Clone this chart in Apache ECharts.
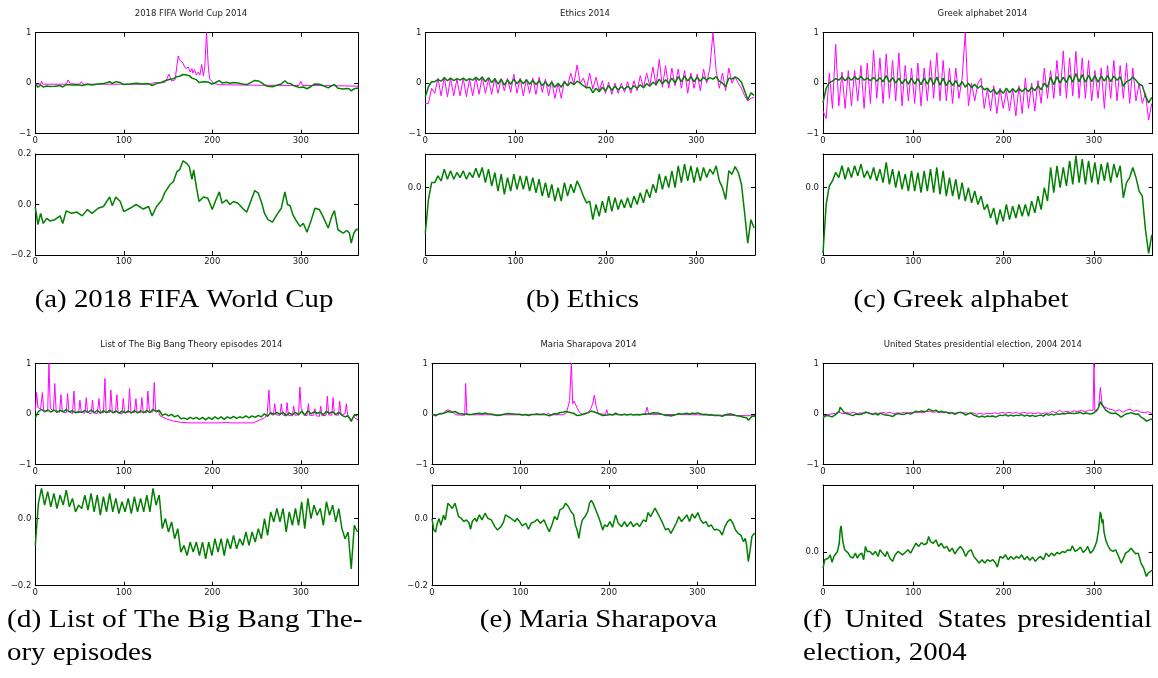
<!DOCTYPE html>
<html><head><meta charset="utf-8">
<script src="https://cdn.jsdelivr.net/npm/echarts@6/dist/echarts.min.js"></script>
<style>html,body{margin:0;padding:0;background:#fff}#c{width:1158px;height:678px}</style>
</head><body><div id="c"></div>
<script>
// ---------------- DATA ----------------
const xTicks = [0, 100, 200, 300];
const topTicks = [-1, 0, 1];
const STEP = 3.5; // grid spacing (days) for weekly-oscillating series

// (a) 2018 FIFA World Cup : [day, value]
const fifaGreen = [[0,-0.01],[3,-0.08],[6,-0.035],[9,-0.075],[13,-0.055],[16.5,-0.065],[22,-0.06],[28,-0.045],[31,-0.075],[35,-0.025],[41,-0.035],[47,-0.03],[53,-0.045],[59,-0.02],[64,-0.035],[71,-0.015],[77,-0.008],[84,0.03],[87,-0.005],[91,0.03],[96,0.012],[100,-0.028],[107,-0.015],[114,0.0],[122,-0.018],[128,-0.008],[132,-0.045],[137,-0.008],[143,0.018],[146,0.045],[152,0.078],[156,0.09],[160,0.13],[163,0.137],[167,0.173],[171,0.163],[174,0.15],[177,0.1],[179,0.137],[182,0.07],[185,0.012],[190,0.03],[195,0.025],[200,-0.02],[204,0.018],[208,0.05],[211,0.005],[216,0.018],[220,0.0],[224,0.012],[229,0.005],[235,-0.018],[239,-0.03],[244,0.018],[248,0.055],[252,0.045],[256,0.005],[259,-0.035],[263,-0.06],[268,-0.07],[273,-0.04],[278,-0.015],[282,0.05],[285,0.0],[288,-0.005],[291,-0.04],[295,-0.065],[299,-0.087],[303,-0.075],[307,-0.11],[312,-0.06],[316,-0.015],[321,-0.02],[325,-0.047],[331,-0.093],[335,-0.047],[338,-0.024],[342,-0.1],[348,-0.113],[352,-0.103],[355,-0.113],[357,-0.153],[360,-0.113],[363,-0.098],[365,-0.1]];
const fifaPink = [[0,-0.02],[6,-0.02],[7,0.04],[8.5,-0.02],[35,-0.02],[37,0.065],[39.5,-0.01],[50,-0.02],[52,0.03],[54,-0.02],[130,-0.02],[134,0.01],[136,-0.01],[146,0.01],[148,0.06],[151,0.18],[154,0.04],[158,0.07],[160,0.09],[161.5,0.54],[163,0.46],[166,0.42],[168,0.44],[170,0.29],[173,0.32],[175,0.22],[177,0.29],[178,0.2],[180,0.27],[182,0.16],[184,0.22],[186,0.16],[188,0.37],[190,0.14],[191.5,0.32],[193.5,1.0],[195.5,0.32],[197,0.09],[201,0.0],[208,-0.03],[250,-0.04],[298,-0.045],[300,0.04],[302,-0.045],[340,-0.05],[365,-0.06]];

// (b) Ethics : values every STEP days from day 0
const ethicsGreen = [
 -0.27,-0.07,0.03,0.03,0.07,0.04,0.11,0.05,0.10,0.05,
 0.09,0.06,0.10,0.05,0.09,0.06,0.115,0.06,0.12,0.03,
 0.11,0.01,0.09,-0.02,0.08,-0.04,0.06,-0.02,0.08,-0.01,
 0.07,-0.01,0.07,-0.02,0.06,-0.03,0.05,-0.05,0.03,-0.06,
 0.02,-0.08,0.0,-0.08,0.03,-0.05,0.02,-0.03,0.04,0.0,
 -0.05,-0.09,-0.08,-0.19,-0.1,-0.17,-0.08,-0.15,-0.05,-0.14,
 -0.06,-0.13,-0.07,-0.12,-0.06,-0.12,-0.05,-0.1,-0.03,-0.09,
 -0.01,-0.06,0.02,-0.03,0.08,-0.01,0.07,0.0,0.1,0.0,
 0.13,0.03,0.14,0.04,0.13,0.03,0.12,0.04,0.12,0.06,
 0.11,0.08,0.13,0.04,0.0,-0.07,0.1,0.08,0.125,0.09,
 0.02,-0.15,-0.33,-0.19,-0.24];
const ethicsPink = [
 -0.4,-0.4,-0.1,-0.2,0.1,-0.25,0.12,-0.27,0.1,-0.25,
 0.08,-0.25,0.1,-0.27,0.08,-0.25,0.12,-0.22,0.13,-0.2,
 0.08,-0.22,0.1,-0.2,0.09,-0.15,0.1,-0.18,0.18,-0.2,
 0.1,-0.25,0.08,-0.2,0.1,-0.22,0.12,-0.18,0.08,-0.25,
 0.05,-0.3,0.0,-0.3,0.05,-0.05,0.2,-0.02,0.36,0.0,
 0.1,-0.1,0.2,-0.12,0.12,-0.15,0.05,-0.2,0.02,-0.22,
 0.0,-0.2,0.0,-0.18,0.03,-0.2,0.05,-0.15,0.15,-0.1,
 0.2,-0.05,0.32,-0.05,0.47,-0.08,0.35,-0.1,0.3,-0.05,
 0.28,-0.1,0.25,-0.2,0.2,-0.1,0.18,-0.15,0.28,0.0,
 0.3,1.0,0.25,-0.1,0.2,-0.15,0.3,0.0,0.12,0.0,
 -0.1,-0.25,-0.35,-0.3,-0.28];

// (c) Greek alphabet : values every STEP days
const greekGreen = [
 -0.39,-0.1,0.01,0.04,0.09,0.06,0.13,0.05,0.12,0.06,
 0.13,0.07,0.14,0.06,0.1,0.05,0.12,0.04,0.11,0.03,
 0.15,0.02,0.11,0.0,0.1,-0.01,0.08,-0.02,0.1,-0.02,
 0.09,-0.03,0.1,-0.02,0.11,-0.03,0.12,-0.04,0.1,-0.05,
 0.06,-0.05,0.05,-0.07,0.03,-0.08,0.0,-0.09,-0.02,-0.1,
 -0.05,-0.13,-0.1,-0.18,-0.12,-0.22,-0.13,-0.2,-0.1,-0.19,
 -0.11,-0.18,-0.1,-0.17,-0.1,-0.17,-0.08,-0.15,-0.05,-0.13,
 0.0,-0.08,0.12,-0.03,0.13,0.0,0.12,0.01,0.16,0.02,
 0.19,0.03,0.17,0.02,0.16,0.03,0.15,0.02,0.14,0.04,
 0.15,0.03,0.14,0.06,0.13,-0.06,0.03,0.06,0.12,0.06,
 -0.02,-0.05,-0.25,-0.39,-0.28];
const greekPink = [
 -0.55,-0.7,0.2,-0.5,0.77,-0.45,0.22,-0.5,0.25,-0.45,
 0.25,-0.35,0.35,-0.5,0.4,-0.4,0.65,-0.3,0.5,-0.4,
 0.58,-0.3,0.45,-0.35,0.6,-0.45,0.35,-0.35,0.3,-0.4,
 0.4,-0.45,0.3,-0.35,0.45,-0.3,0.6,-0.35,0.45,-0.35,
 0.3,-0.4,0.3,-0.3,0.1,1.0,-0.45,0.0,-0.35,0.0,
 0.1,-0.5,-0.1,-0.55,-0.05,-0.6,-0.1,-0.5,-0.15,-0.55,
 -0.1,-0.65,-0.05,-0.6,0.1,-0.5,0.0,-0.55,0.05,-0.4,
 0.3,-0.3,0.25,-0.3,0.45,-0.25,0.64,-0.3,0.5,-0.25,
 0.63,-0.3,0.5,-0.3,0.45,-0.35,0.25,-0.3,0.3,-0.5,
 0.35,-0.3,0.45,-0.35,0.35,-0.3,0.4,-0.4,0.3,-0.35,
 0.0,-0.4,-0.2,-0.73,-0.4];

// (d) List of The Big Bang Theory episodes
const bigbangGreen = [
 -0.08,0.045,0.09,0.04,0.08,0.035,0.075,0.03,0.07,0.04,
 0.085,0.035,0.06,0.02,0.04,0.03,0.07,0.025,0.075,0.02,
 0.07,0.01,0.065,0.02,0.075,0.02,0.06,0.015,0.05,0.02,
 0.06,0.015,0.065,0.02,0.06,0.02,0.07,0.02,0.09,0.04,
 0.07,-0.03,0.0,-0.04,-0.01,-0.06,-0.03,-0.1,-0.08,-0.11,
 -0.07,-0.1,-0.07,-0.11,-0.07,-0.12,-0.07,-0.11,-0.06,-0.1,
 -0.06,-0.11,-0.06,-0.09,-0.05,-0.09,-0.06,-0.08,-0.04,-0.08,
 -0.04,-0.07,-0.03,-0.06,0.0,-0.05,0.02,-0.01,0.03,-0.01,
 0.03,-0.04,0.02,-0.02,0.03,-0.02,0.05,-0.03,0.06,0.0,
 0.04,0.01,0.03,-0.02,0.05,0.01,0.04,-0.01,0.03,-0.03,
 -0.06,-0.04,-0.15,-0.02,-0.04];
const bigbangPink = [[0,0.05],[1.5,0.42],[3,0.12],[6,0.1],[8,0.42],[9.5,0.06],[14,0.05],[15.4,1.0],[17,0.1],[20.5,0.06],[22,0.6],[23.5,0.07],[27.5,0.03],[29,0.38],[30.5,0.04],[35,0.02],[36.5,0.4],[38,0.05],[42,0.0],[43.7,0.45],[45,0.04],[49,0.02],[50.4,0.27],[52,0.03],[56,0.01],[57.6,0.32],[59,0.03],[63,0.0],[64.7,0.27],[66,0.02],[70,0.0],[72,0.3],[73.5,0.03],[77,0.02],[78.7,0.7],[80,0.05],[84,0.02],[85.4,0.47],[87,0.04],[90.5,0.02],[92.2,0.38],[93.5,0.03],[98,-0.01],[99.4,0.3],[101,0.03],[105,0.02],[106.5,0.5],[108,0.04],[112,0.02],[113.7,0.3],[115,0.03],[119,0.02],[120.4,0.32],[122,0.03],[126,0.02],[127.2,0.45],[129,0.04],[133,0.04],[134.4,0.62],[136,0.06],[139,0.06],[141,-0.04],[148,-0.1],[155,-0.14],[165,-0.17],[175,-0.18],[210,-0.18],[216,-0.17],[218,-0.15],[220,-0.18],[246,-0.18],[254,-0.12],[259,-0.08],[262,-0.02],[264,0.47],[265.5,0.0],[269,-0.03],[270.6,0.2],[272,-0.02],[276.5,-0.03],[278,0.2],[279.5,-0.02],[283,-0.04],[284.5,0.22],[286,-0.03],[290.5,-0.04],[292,0.15],[293.5,-0.03],[297.5,-0.02],[299,0.53],[300.5,0.1],[302,0.1],[304,-0.02],[307,-0.04],[308.6,0.2],[310,-0.03],[314.5,-0.03],[316,0.1],[317.5,-0.04],[321,-0.05],[322.5,0.15],[324,-0.04],[328.5,-0.03],[330,0.35],[331.5,-0.02],[335,-0.03],[336.5,0.32],[338,-0.02],[342.5,-0.03],[344,0.25],[345.5,-0.02],[350,0.0],[351.5,0.2],[353,-0.03],[357,-0.12],[360,-0.05],[362,-0.1],[365,-0.12]];

// (e) Maria Sharapova
const sharapovaGreen = [[0,0.0],[2,-0.034],[4,-0.04],[6,-0.014],[8,0.0],[10,-0.02],[13,0.01],[15,-0.004],[18,0.046],[20,0.04],[23,0.03],[26,0.046],[28,0.046],[30,0.006],[33,0.001],[36,-0.009],[39,-0.004],[42,-0.014],[43.5,-0.032],[45.5,-0.009],[48.5,0.001],[50.5,-0.009],[53.5,0.011],[56.5,-0.004],[60,0.016],[63,0.001],[67,-0.004],[71,-0.024],[74,-0.034],[78,-0.024],[81,-0.009],[83,0.011],[86,0.006],[89,0.001],[91,0.006],[94,-0.009],[96,0.001],[99,-0.009],[102,-0.022],[106,-0.014],[109,-0.032],[112,-0.014],[116,-0.009],[119,-0.002],[122.5,-0.014],[126.5,-0.004],[129.5,-0.022],[132.5,-0.039],[135.5,-0.019],[138.5,0.006],[141.5,-0.004],[144.5,0.026],[148,0.031],[151,0.046],[154,0.036],[157,0.021],[160,0.011],[162,-0.019],[164,-0.034],[166,-0.059],[168,-0.024],[170,-0.004],[173,0.006],[176,0.021],[178,0.046],[180,0.054],[182,0.046],[185,0.026],[188,0.006],[190,-0.009],[193,-0.034],[195,-0.019],[198,-0.024],[201,-0.009],[204,-0.026],[207.5,0.011],[210.5,-0.014],[214.5,-0.024],[217.5,-0.009],[220.5,-0.024],[224.5,-0.009],[227.5,-0.024],[231.5,-0.014],[234.5,-0.024],[239,-0.004],[242,-0.009],[244,0.018],[247,0.006],[250,0.021],[252,0.031],[255,0.016],[258,0.001],[261,-0.016],[264,-0.034],[267,-0.029],[270,-0.044],[273,-0.029],[276,-0.014],[279,0.006],[282,-0.009],[285,0.001],[288,0.011],[291,-0.009],[294,0.014],[297,0.001],[300.5,0.018],[303.5,-0.004],[306.5,-0.014],[309.5,-0.009],[312.5,-0.024],[315.5,-0.019],[319,-0.034],[322,-0.032],[325,-0.036],[328,-0.049],[331,-0.024],[334,-0.009],[337,-0.002],[340,-0.014],[343,-0.034],[346,-0.044],[349,-0.049],[352,-0.069],[354,-0.059],[355.5,-0.079],[357.5,-0.128],[359.5,-0.094],[361.5,-0.054],[363.5,-0.046],[365,-0.044]];
const sharapovaPink = [[0,-0.02],[8,-0.01],[12,0.0],[15,0.05],[18,0.08],[20,0.06],[22,0.05],[27,-0.02],[37,-0.03],[38,0.6],[39.5,-0.02],[130,-0.02],[131.5,0.02],[133,-0.02],[148,-0.02],[152,0.02],[154,0.05],[155.5,0.26],[157.5,1.0],[159,0.2],[160.5,0.25],[162,0.24],[164.5,0.1],[167,0.02],[171,-0.02],[176,0.02],[179,0.08],[181.5,0.2],[183.5,0.37],[185.5,0.15],[188,0.0],[196,-0.01],[197.5,0.08],[199,-0.02],[241,-0.01],[243,0.13],[245,-0.01],[300,-0.02],[365,-0.04]];

// (f) United States presidential election, 2004
const electionGreen = [[0,-0.095],[2,-0.045],[4,-0.055],[6,-0.036],[8,-0.016],[10,-0.061],[12,-0.026],[14,-0.016],[16,0.004],[18,0.053],[19,0.13],[20,0.156],[22,0.063],[24,0.014],[26,0.024],[28,-0.006],[30,-0.026],[33,-0.036],[36,-0.006],[38,-0.036],[40,-0.016],[43,-0.006],[45,-0.045],[47,0.034],[49,0.004],[52,0.004],[55,-0.016],[58,0.004],[61,-0.026],[63,0.014],[66,-0.006],[69,-0.026],[71,0.004],[74,-0.036],[77,-0.055],[80,-0.016],[83,0.004],[85,0.01],[88,-0.016],[91,-0.002],[94,0.014],[97,-0.006],[100,0.024],[103,0.053],[106,0.034],[109,0.057],[112,0.044],[115,0.053],[117,0.093],[119,0.063],[122,0.053],[125,0.073],[128,0.034],[131,0.053],[134,0.024],[137,0.034],[140,0.004],[143,0.024],[146,-0.01],[149,0.014],[152,0.034],[155,0.014],[158,-0.026],[161,0.004],[164,0.014],[167,-0.026],[170,-0.045],[173,-0.065],[176,-0.045],[179,-0.065],[182,-0.045],[185,-0.055],[188,-0.045],[191,-0.065],[193,-0.089],[196,-0.026],[199,-0.036],[202,-0.016],[205,-0.045],[208,-0.026],[211,-0.042],[214,-0.026],[217,-0.036],[220,-0.016],[223,-0.045],[226,-0.026],[229,-0.049],[232,-0.03],[235,-0.055],[238,-0.036],[241,-0.026],[244,-0.045],[247,-0.006],[250,-0.026],[253,-0.006],[256,-0.022],[259,-0.002],[262,-0.01],[265,0.004],[268,-0.002],[271,0.014],[274,0.01],[276,0.038],[279,0.004],[282,0.014],[285,0.03],[288,-0.002],[291,0.014],[293,0.034],[296,-0.006],[299,0.01],[301,0.034],[303,0.063],[305,0.13],[307,0.24],[308,0.22],[309,0.172],[310,0.196],[311,0.123],[313,0.073],[315,0.044],[318,0.014],[321,0.004],[324,0.014],[327,-0.022],[330,-0.065],[332,-0.045],[335,-0.006],[338,0.004],[341,0.024],[343,0.01],[346,-0.01],[349,-0.006],[352,-0.065],[355,-0.095],[358,-0.145],[360,-0.125],[362,-0.115],[365,-0.105]];
const electionPink = [[0,-0.05],[5,-0.02],[10,0.0],[14,0.01],[18,0.03],[22,0.0],[26,0.03],[30,0.01],[34,0.03],[38,0.0],[42,0.02],[46,0.01],[50,0.03],[54,0.0],[58,0.02],[62,0.0],[66,0.03],[70,0.01],[74,0.03],[78,0.0],[82,0.02],[86,0.01],[90,0.03],[94,0.01],[98,0.03],[102,0.02],[106,0.04],[110,0.02],[114,0.04],[118,0.05],[122,0.03],[126,0.04],[130,0.02],[134,0.04],[138,0.02],[142,0.03],[146,0.01],[150,0.03],[154,0.01],[158,0.02],[162,0.0],[166,0.02],[170,-0.01],[174,0.01],[178,-0.01],[182,0.01],[186,0.0],[190,0.02],[194,0.0],[198,0.03],[202,0.01],[206,0.03],[210,0.01],[214,0.03],[218,0.0],[222,0.03],[226,0.01],[230,0.02],[234,0.0],[238,0.02],[242,0.0],[246,0.02],[250,0.01],[254,0.05],[258,0.02],[262,0.07],[266,0.03],[270,0.05],[274,0.03],[278,0.06],[282,0.04],[286,0.07],[290,0.04],[294,0.07],[299,0.07],[300,1.0],[301,0.06],[303,0.08],[305,0.1],[307,0.52],[309,0.2],[311,0.14],[313,0.15],[316,0.1],[320,0.08],[324,0.05],[328,0.08],[332,0.03],[336,0.07],[340,0.09],[344,0.05],[348,0.07],[352,0.03],[356,0.02],[360,0.04],[363,0.01],[365,0.02]];

// titles & captions
const titles = ['2018 FIFA World Cup 2014','Ethics 2014','Greek alphabet 2014','List of The Big Bang Theory episodes 2014','Maria Sharapova 2014','United States presidential election, 2004 2014'];
// zoomed (lower) axis ranges and ticks
const zoomRanges = [[-0.2,0.2],[-0.4,0.2],[-0.4,0.2],[-0.2,0.1],[-0.2,0.1],[-0.2,0.4]];
const zoomTicks = [[-0.2,0,0.2],[0],[0],[-0.2,0],[-0.2,0],[0]];

// ---------------- BUILD ----------------
const gridPairs = vals => vals.map((v, i) => [i * STEP, v]);
const pinks = [fifaPink, gridPairs(ethicsPink), gridPairs(greekPink), bigbangPink, sharapovaPink, electionPink];
const greens = [fifaGreen, gridPairs(ethicsGreen), gridPairs(greekGreen), gridPairs(bigbangGreen), sharapovaGreen, electionGreen];

// layout (pixels)
const L = [
 {left:35.3, w:323,   t1:32.7,  t2:154, h1:101, h2:101,   tx:191,   ty:14},
 {left:425.3,w:329.7, t1:32.7,  t2:154, h1:101, h2:101,   tx:585,   ty:14},
 {left:823,  w:329.7, t1:32.7,  t2:154, h1:101, h2:101,   tx:982.5, ty:14},
 {left:35.3, w:323,   t1:363.3, t2:485, h1:101, h2:100.7, tx:191.3, ty:344.3},
 {left:432,  w:323,   t1:363.3, t2:485, h1:101, h2:100.7, tx:588.5, ty:344.3},
 {left:823,  w:329.7, t1:363.3, t2:485, h1:101, h2:100.7, tx:982.8, ty:344.3}
];

const minus = '\u2212';
const fmt = d => v => (v < -1e-9 ? minus : '') + Math.abs(v).toFixed(d);
const TICKFONT = {fontSize: 8.5, fontFamily: 'DejaVu Sans', color: '#222'};
const line = {show: true, onZero: false, lineStyle: {color: '#000', width: 1}};

const grid = [], xAxis = [], yAxis = [], series = [], graphic = [];
function addGrid(left, top, w, h, yr, yt, dec) {
  const gi = grid.length;
  grid.push({left, top, width: w, height: h, containLabel: false});
  const tick = vals => ({show: true, inside: true, length: 4, customValues: vals, lineStyle: {color: '#000', width: 1}});
  xAxis.push({gridIndex: gi, type: 'value', min: 0, max: 365, position: 'bottom', axisLine: line,
    axisTick: tick(xTicks), axisLabel: Object.assign({show: true, customValues: xTicks, margin: 2.5}, TICKFONT), splitLine: {show: false}});
  xAxis.push({gridIndex: gi, type: 'value', min: 0, max: 365, position: 'top', axisLine: line,
    axisTick: tick(xTicks), axisLabel: {show: false}, splitLine: {show: false}});
  yAxis.push({gridIndex: gi, type: 'value', min: yr[0], max: yr[1], position: 'left', axisLine: line,
    axisTick: tick(yt), axisLabel: Object.assign({show: true, customValues: yt, margin: 4, formatter: fmt(dec)}, TICKFONT), splitLine: {show: false}});
  yAxis.push({gridIndex: gi, type: 'value', min: yr[0], max: yr[1], position: 'right', axisLine: line,
    axisTick: tick(yt), axisLabel: {show: false}, splitLine: {show: false}});
  return gi;
}
function addLine(gi, data, color, width) {
  series.push({type: 'line', xAxisIndex: 2 * gi, yAxisIndex: 2 * gi, data, color,
    showSymbol: false, symbol: 'none', clip: true, silent: true,
    lineStyle: {color, width}, z: width > 1.2 ? 3 : 2});
}

for (let k = 0; k < 6; k++) {
  const p = L[k];
  const gTop = addGrid(p.left, p.t1, p.w, p.h1, [-1, 1], topTicks, 0);
  addLine(gTop, pinks[k], '#ff00ff', 1);
  addLine(gTop, greens[k], '#007f00', 1.5);
  const gBot = addGrid(p.left, p.t2, p.w, p.h2, zoomRanges[k], zoomTicks[k], 1);
  addLine(gBot, greens[k], '#007f00', 1.5);
  graphic.push({type: 'text', x: p.tx, y: p.ty, style: {text: titles[k], fontSize: 8.5, fontFamily: 'DejaVu Sans', fill: '#222', align: 'center', verticalAlign: 'middle'}});
}

// captions
const capFont = {fontSize: 25, fontFamily: 'Liberation Serif', fill: '#000'};
function cap(text, x, y, align, sx) {
  graphic.push({type: 'text', x, y, scaleX: sx || 1.155, style: Object.assign({text, align: align || 'center', verticalAlign: 'middle'}, capFont)});
}
cap('(a) 2018 FIFA World Cup', 184, 300);
cap('(b) Ethics', 582.5, 300);
cap('(c) Greek alphabet', 961, 300);
cap('(d) List of The Big Bang The-', 7, 620, 'left', 1.18);
cap('ory episodes', 7, 653, 'left');
cap('(e) Maria Sharapova', 598.5, 620);
cap('(f)', 803, 620, 'left');
cap('United', 884, 620, 'center');
cap('States', 972, 620, 'center');
cap('presidential', 1152, 620, 'right');
cap('election, 2004', 803, 653, 'left');

const chart = echarts.init(document.getElementById('c'), null, {renderer: 'canvas'});
chart.setOption({animation: false, backgroundColor: '#fff', grid, xAxis, yAxis, series, graphic});
</script>
</body></html>
